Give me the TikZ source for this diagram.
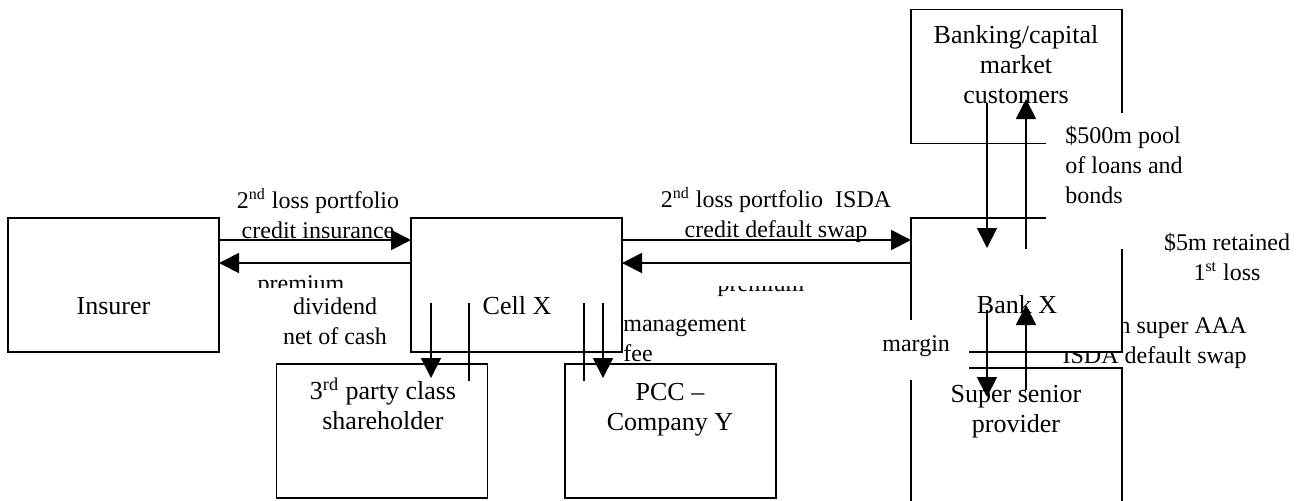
\documentclass[tikz,border=0pt]{standalone}
\usepackage{fontspec}
\setmainfont{Liberation Serif}
\usetikzlibrary{arrows.meta,positioning}

\begin{document}
\begin{tikzpicture}[
			x=0.5pt,y=-0.5pt,
			% Boxes of the parties
			party/.style={
				draw=black,
				line width=0.9pt,
				fill=white,
				minimum width=105.5pt,
				minimum height=67pt,
				inner sep=0pt,
				outer sep=0pt
			},
			txt/.style={
				font=\fontsize{12}{15}\selectfont,
				inner sep=0pt,
				align=center,
				anchor=base
			},
			boxtxt/.style={
				txt,
				font=\fontsize{13}{15}\selectfont
			},
			flow/.style={
				-{Triangle[length=10pt,width=10pt]},
				line width=0.9pt
			},
			rule/.style={
				line width=0.9pt
			}
			]
			
			\clip (0,0) rectangle (1304,500);
			
			% Text partly hidden behind Bank X
			\node[txt,align=right,anchor=base east] (aaaL) at (1247,363)
			{n super AAA\\ISDA default swap};
			
			% Parties
			\node[party] (cust)   at (1016.5,76.5) {};
			\node[party] (bank)   at (1016.5,285) {};
			\node[party,minimum height=67.5pt] (senior) at (1016.5,435.5) {};
			\node[party] (ins)    at (113.5,285) {};
			\node[party] (cell)   at (516.5,285) {};
			\node[party] (third)  at (382,431) {};
			\node[party] (pcc)    at (670.5,431) {};
			
			\node[boxtxt] (custL)   at (1016,103) {Banking/capital\\market\\customers};
			\node[boxtxt] (bankL)   at (1017,313) {Bank X};
			\node[boxtxt] (seniorL) at (1016,432) {Super senior\\provider};
			\node[boxtxt] (insL)    at (113.5,314) {Insurer};
			\node[boxtxt] (cellL)   at (517,314) {Cell X};
			\node[boxtxt] (thirdL)  at (383,429) {3\textsuperscript{rd} party class\\shareholder};
			\node[boxtxt] (pccL)    at (670,430) {PCC --\\Company Y};
			
			% Insurance and swap legs
			\draw[flow] ([yshift=-11pt]ins.north east) -- ([yshift=-11pt]cell.north west);
			\draw[flow] ([yshift=-22.5pt]cell.north west) -- ([yshift=-22.5pt]ins.north east);
			\draw[flow] ([yshift=-11pt]cell.north east) -- ([yshift=-11pt]bank.north west);
			\draw[flow] ([yshift=-22.5pt]bank.north west) -- ([yshift=-22.5pt]cell.north east);
			
			\node[txt] (insArrL) at (318,238) {2\textsuperscript{nd} loss portfolio\\credit insurance};
			\node[txt] (cdsL)    at (776,237) {2\textsuperscript{nd} loss portfolio~ ISDA\\credit default swap};
			
			% Cell X payments
			\coordinate (divA) at (431,303);
			\coordinate (divB) at (431,378);
			\coordinate (cshA) at (469,303);
			\coordinate (cshB) at (469,381);
			\coordinate (feeA) at (584,303);
			\coordinate (feeB) at (584,381);
			\coordinate (mgtA) at (603,303);
			\coordinate (mgtB) at (603,378);
			
			\draw[flow] (divA) -- (divB);
			\draw[rule] (cshA) -- (cshB);
			\draw[rule] (feeA) -- (feeB);
			\draw[flow] (mgtA) -- (mgtB);
			
			\node[txt] (divL) at (335,344) {dividend\\net of cash};
			\node[txt,align=left,anchor=base west] (feeL) at (623,361) {management\\fee};
			
			% Bank X links
			\coordinate (poolA) at (987,103);
			\coordinate (poolB) at (987,248);
			\coordinate (loanA) at (1026,249);
			\coordinate (loanB) at (1026,99);
			\coordinate (ssA) at (987,310);
			\coordinate (ssB) at (987,397);
			\coordinate (mrgA) at (1026,390);
			\coordinate (mrgB) at (1026,305);
			
			\draw[flow] (poolA) -- (poolB);
			\draw[flow] (loanA) -- (loanB);
			\draw[flow] (ssA) -- (ssB);
			\draw[flow] (mrgA) -- (mrgB);
			
			% Text boxes on top
			\fill[white] (1046,113) rectangle (1160,249);
			\fill[white] (875,320) rectangle (969,380);
			
			\node[txt,align=left,anchor=base west] (poolL) at (1065,203)
			{\$500m pool\\of loans and\\bonds};
			\node[txt,anchor=base west] (marginL) at (882,351) {margin};
			\node[txt] (retL) at (1227,280) {\$5m retained\\1\textsuperscript{st} loss};
			
			% Premium labels, half hidden
			\begin{scope}
				\clip (240,270) rectangle (370,287.5);
				\node[txt] (premL) at (301,291) {premium};
			\end{scope}
			\begin{scope}
				\clip (700,286.5) rectangle (820,310);
				\node[txt] (premR) at (761,291) {premium};
			\end{scope}
			
		\end{tikzpicture}
\end{document}
